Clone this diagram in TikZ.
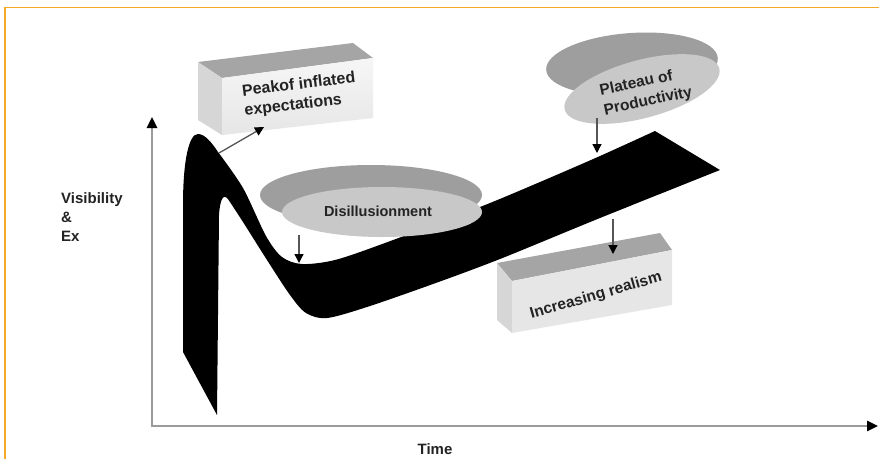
\documentclass[tikz,border=0pt]{standalone}
\usepackage{fontspec}
\setmainfont{Liberation Sans}
\usetikzlibrary{arrows.meta}
\definecolor{frameor}{RGB}{244,170,40}
\definecolor{axisgray}{RGB}{155,155,155}
\definecolor{darkdisc}{RGB}{158,158,158}
\definecolor{lightdisc}{RGB}{200,200,200}
\definecolor{boxtop}{RGB}{165,165,165}
\definecolor{boxside}{RGB}{214,214,214}
\definecolor{boxfront}{RGB}{246,246,246}
\definecolor{boxfrontb}{RGB}{230,230,230}
\definecolor{txt}{RGB}{35,35,35}
\definecolor{pointer}{RGB}{85,85,85}
\begin{document}
\begin{tikzpicture}[x=1pt,y=-1pt,
  axis/.style={draw=axisgray, line width=2.5pt,
    {Triangle[length=11pt,width=10pt,color=black]}-{Triangle[length=11pt,width=10pt,color=black]}},
  ptr/.style={draw=pointer, line width=1.3pt, -{Triangle[length=9pt,width=9pt,color=black]}},
  lbl/.style={font=\bfseries\fontsize{16}{20}\selectfont, text=txt, inner sep=0pt, align=left},
  axlbl/.style={font=\bfseries\fontsize{15}{19}\selectfont, text=txt, inner sep=0pt, align=left}]
\useasboundingbox (0,0) rectangle (879,459);
\fill[white] (0,0) rectangle (879,459);
% frame
\coordinate (fbl) at (5,459);
\coordinate (ftl) at (5,7.5);
\coordinate (ftr) at (879,7.5);
\draw[frameor, line width=1.8pt] (fbl) -- (ftl) -- (ftr);
% axes
\coordinate (ytop) at (152,117);
\coordinate (origin) at (152,426);
\coordinate (xend) at (878,426);
\draw[axis] (ytop) -- (origin) -- (xend);
\node[axlbl, anchor=north west] (ylabel) at (61,192) {Visibility\\\&\\Ex};
\node[axlbl] (xlabel) at (435,449) {Time};
% hype band
\fill[black] (217,415) -- (183,352) -- (183,205)
  .. controls (183,160) and (189,134) .. (198,134)
  .. controls (205,134) and (212,143) .. (218,152)
  -- plot[smooth,tension=0.5] coordinates {(218,152) (243,188) (266,236) (282,257) (302,264) (335,260) (385,243) (480,207) (540,182) (600,156) (655,131)}
  -- (720,170)
  -- plot[smooth,tension=0.5] coordinates {(720,170) (600,218) (500,259) (433,284) (367,307) (327,318) (306,313) (290,295) (267,260) (243,222) (228,199)}
  .. controls (223,193) and (220,200) .. (219,215)
  -- cycle;
% Disillusionment disc
\fill[darkdisc] (371,195) ellipse [x radius=111pt, y radius=30pt];
\fill[lightdisc] (382,212) ellipse [x radius=100pt, y radius=25pt];
\node[lbl, font=\bfseries\fontsize{14.5}{18}\selectfont] (disil) at (378,211) {Disillusionment};
% Plateau disc
\fill[darkdisc, rotate around={4:(632,64)}] (632,64) ellipse [x radius=86pt, y radius=31pt];
\fill[lightdisc, rotate around={15:(642,89)}] (642,89) ellipse [x radius=80pt, y radius=29pt];
\node[lbl, font=\bfseries\fontsize{15.5}{20}\selectfont, rotate=12] (plateau) at (646,92) {Plateau of\\Productivity};
% Peak box
\fill[boxtop] (198,62) -- (353,43) -- (373,58) -- (222,78) -- cycle;
\fill[boxside] (198,62) -- (222,78) -- (222,135) -- (198,120) -- cycle;
\shade[top color=boxfront, bottom color=boxfrontb] (222,78) -- (373,58) -- (373,118) -- (222,135) -- cycle;
\node[lbl, rotate=7] (peak) at (300,95) {Peakof inflated\\expectations};
% Increasing realism box
\fill[boxtop] (497,263) -- (660,233) -- (672,250) -- (512,281) -- cycle;
\fill[boxside] (497,263) -- (512,281) -- (512,333) -- (497,320) -- cycle;
\fill[boxfrontb] (512,281) -- (672,250) -- (672,305) -- (512,333) -- cycle;
\node[lbl, font=\bfseries\fontsize{15.5}{19}\selectfont, rotate=16] (realism) at (596,296) {Increasing realism};
% pointers
\coordinate (peakfoot) at (219,153);
\coordinate (peaktip) at (264,127);
\draw[ptr] (peakfoot) -- (peaktip);
\coordinate (disfoot) at (299,235);
\coordinate (distip) at (299,263);
\draw[ptr] (disfoot) -- (distip);
\coordinate (platfoot) at (597,118);
\coordinate (plattip) at (597,153);
\draw[ptr] (platfoot) -- (plattip);
\coordinate (realfoot) at (613,219);
\coordinate (realtip) at (613,254);
\draw[ptr] (realfoot) -- (realtip);
\end{tikzpicture}
\end{document}
